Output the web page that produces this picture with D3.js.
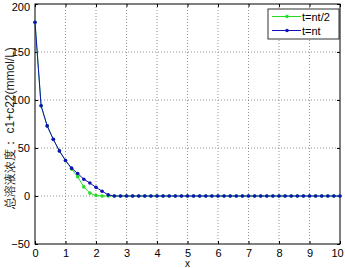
<!DOCTYPE html>
<html><head><meta charset="utf-8">
<script src="https://cdn.jsdelivr.net/npm/d3@7"></script>
<style>body{margin:0;background:#fff}svg{display:block}text{font-family:"Liberation Sans",Arial,sans-serif}</style>
</head><body>
<svg id="c" width="345" height="268"></svg>
<script>
const xVals = [0,0.2,0.4,0.6,0.8,1.0,1.2,1.4,1.6,1.8,2.0,2.2,2.4,2.6,2.8,3.0,3.2,3.4,3.6,3.8,4.0,4.2,4.4,4.6,4.8,5.0,5.2,5.4,5.6,5.8,6.0,6.2,6.4,6.6,6.8,7.0,7.2,7.4,7.6,7.8,8.0,8.2,8.4,8.6,8.8,9.0,9.2,9.4,9.6,9.8,10.0];
const halfHead = [181,94,73,59,47,37,28,20,9.5,3,0.5,0,0];
const fullHead = [181,94,73,59,47,37,29,23.5,17.5,13.5,9,5,1.2,0];
const seriesHalf = xVals.map((x,i)=> i<halfHead.length ? halfHead[i] : 0);
const seriesFull = xVals.map((x,i)=> i<fullHead.length ? fullHead[i] : 0);
const seriesNames = ["t=nt/2","t=nt"];
const seriesColors = ["#22dd22","#1010b8"];
const xTicks = [0,1,2,3,4,5,6,7,8,9,10];
const yTicks = [-50,0,50,100,150,200];
const xLabel = "x";
const yLabel = "总溶液浓度：  c1+c22(mmol/L)";

const svg = d3.select("#c");
const L=35, R=340, T=4, B=244;
const x = d3.scaleLinear().domain([0,10]).range([L,R]);
const y = d3.scaleLinear().domain([-50,200]).range([B,T]);

// grid
const g = svg.append("g");
xTicks.forEach(t=>{ if(t>0&&t<10) g.append("line").attr("x1",x(t)).attr("x2",x(t)).attr("y1",T).attr("y2",B).attr("stroke","#777").attr("stroke-width",0.8).attr("stroke-dasharray","1,2");});
yTicks.forEach(t=>{ if(t>-50&&t<200) g.append("line").attr("x1",L).attr("x2",R).attr("y1",y(t)).attr("y2",y(t)).attr("stroke","#777").attr("stroke-width",0.8).attr("stroke-dasharray","1,2");});

// axes
const ax = svg.append("g").attr("transform",`translate(0,${B})`).call(d3.axisBottom(x).tickValues(xTicks).tickSize(-3).tickPadding(5).tickFormat(d3.format("d")));
const ay = svg.append("g").attr("transform",`translate(${L},0)`).call(d3.axisLeft(y).tickValues(yTicks).tickSize(-3).tickPadding(5).tickFormat(d3.format("d")));
const at = svg.append("g").attr("transform",`translate(0,${T})`).call(d3.axisTop(x).tickValues(xTicks).tickSize(-3).tickFormat(""));
const ar = svg.append("g").attr("transform",`translate(${R},0)`).call(d3.axisRight(y).tickValues(yTicks).tickSize(-3).tickFormat(""));
[ax,ay,at,ar].forEach(a=>{a.select(".domain").remove(); a.selectAll("text").attr("font-size",11).attr("fill","#000").attr("font-family","Liberation Sans, Arial, sans-serif"); a.selectAll("line").attr("stroke","#000");});
ay.selectAll("text").filter(d=>d===200).attr("dy","0.55em");
ax.selectAll("text").filter(d=>d===10).attr("dx","-3");
svg.append("rect").attr("x",L).attr("y",T).attr("width",R-L).attr("height",B-T).attr("fill","none").attr("stroke","#000").attr("stroke-width",1);

// lines
const line = d3.line().x((d,i)=>x(xVals[i])).y(d=>y(d));
[seriesHalf,seriesFull].forEach((s,k)=>{
  svg.append("path").datum(s).attr("d",line).attr("fill","none").attr("stroke",seriesColors[k]).attr("stroke-width",1);
  svg.append("g").selectAll("circle").data(s).join("circle").attr("cx",(d,i)=>x(xVals[i])).attr("cy",d=>y(d)).attr("r",1.8).attr("fill",seriesColors[k]);
});

// labels
svg.append("text").attr("x",x(5)).attr("y",267).attr("text-anchor","middle").attr("font-size",10).text(xLabel);
svg.append("text").attr("transform",`translate(14,128) rotate(-90)`).attr("text-anchor","middle").attr("font-size",12).attr("fill","#222").attr("font-family","'Liberation Sans', 'Noto Sans CJK SC', sans-serif").text(yLabel);

// legend
const lg = svg.append("g");
lg.append("rect").attr("x",268).attr("y",9).attr("width",71).attr("height",30).attr("fill","#fff").attr("stroke","#000").attr("stroke-width",0.8);
seriesNames.forEach((n,k)=>{
  const yy = 16.5 + k*14;
  lg.append("line").attr("x1",272).attr("x2",301).attr("y1",yy).attr("y2",yy).attr("stroke",seriesColors[k]).attr("stroke-width",1);
  lg.append("circle").attr("cx",287).attr("cy",yy).attr("r",1.8).attr("fill",seriesColors[k]);
  lg.append("text").attr("x",302).attr("y",yy+4).attr("font-size",11).text(n);
});
</script>
</body></html>
